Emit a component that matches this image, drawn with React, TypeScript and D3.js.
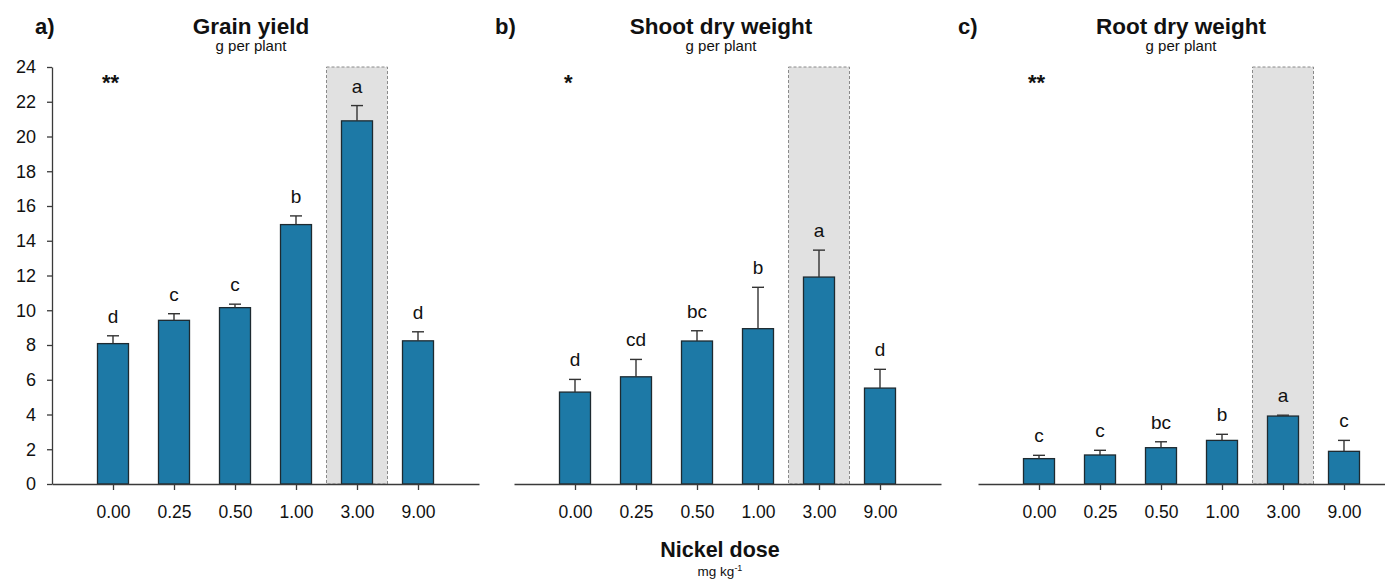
import { useEffect, useRef } from 'react';
import * as d3 from 'd3';

const W = 1385;
const H = 581;
const FONT = "'Liberation Sans', Arial, sans-serif";
const barColor = "#1d79a6";
const shade = "#e1e1e1";

// nickel doses (mg kg-1)
const doses = ["0.00", "0.25", "0.50", "1.00", "3.00", "9.00"];
const bestDose = "3.00";

// grain yield
const grainMean = [8.08, 9.42, 10.15, 14.93, 20.9, 8.24];
const grainSE = [0.45, 0.38, 0.2, 0.5, 0.88, 0.52];
const grainLetters = ["d", "c", "c", "b", "a", "d"];

// shoot dry weight
const shootMean = [5.29, 6.17, 8.23, 8.94, 11.91, 5.52];
const shootSE = [0.73, 1.0, 0.59, 2.38, 1.55, 1.08];
const shootLetters = ["d", "cd", "bc", "b", "a", "d"];

// root dry weight
const rootMean = [1.46, 1.67, 2.09, 2.51, 3.91, 1.88];
const rootSE = [0.19, 0.27, 0.34, 0.35, 0.05, 0.63];
const rootLetters = ["c", "c", "bc", "b", "a", "c"];

const yTicks = [0, 2, 4, 6, 8, 10, 12, 14, 16, 18, 20, 22, 24];

const panels = [
    { tag: "a)", title: "Grain yield", stars: "**", mean: grainMean, se: grainSE, letters: grainLetters, x0: 52, tagX: 35, titleX: 251, yAxis: true },
    { tag: "b)", title: "Shoot dry weight", stars: "*", mean: shootMean, se: shootSE, letters: shootLetters, x0: 514, tagX: 495, titleX: 721, yAxis: false },
    { tag: "c)", title: "Root dry weight", stars: "**", mean: rootMean, se: rootSE, letters: rootLetters, x0: 978, tagX: 958, titleX: 1181, yAxis: false },
];

export default function App() {
    const ref = useRef<SVGSVGElement>(null);

    useEffect(() => {
        const svg = d3.select(ref.current);
        svg.selectAll("*").remove();

        const y = d3.scaleLinear().domain([0, 24]).range([484, 67]);
        const step = 61;

        panels.forEach(p => {
            const g = svg.append("g");
            const x = d3.scaleLinear().domain([0, 7]).range([p.x0, p.x0 + 7 * step]);
            const bw = 31;

            // highlighted dose
            const hi = doses.indexOf(bestDose) + 1;
            g.append("rect")
                .attr("x", x(hi - 0.5))
                .attr("y", y(24))
                .attr("width", x(hi + 0.5) - x(hi - 0.5))
                .attr("height", y(0) - y(24))
                .attr("fill", shade)
                .attr("stroke", "#8a8a8a")
                .attr("stroke-width", 1)
                .attr("stroke-dasharray", "3,2");

            // bars
            g.selectAll(".bar").data(p.mean).join("rect")
                .attr("x", (d, i) => x(i + 1) - bw / 2)
                .attr("y", d => y(d))
                .attr("width", bw)
                .attr("height", d => y(0) - y(d))
                .attr("fill", barColor)
                .attr("stroke", "#1e2a30")
                .attr("stroke-width", 1.3);

            // error bars
            p.mean.forEach((m, i) => {
                const top = y(m + p.se[i]);
                g.append("line")
                    .attr("x1", x(i + 1)).attr("x2", x(i + 1))
                    .attr("y1", y(m)).attr("y2", top)
                    .attr("stroke", "#333").attr("stroke-width", 1.4);
                g.append("line")
                    .attr("x1", x(i + 1) - 6).attr("x2", x(i + 1) + 6)
                    .attr("y1", top).attr("y2", top)
                    .attr("stroke", "#333").attr("stroke-width", 1.4);
                g.append("text")
                    .attr("x", x(i + 1))
                    .attr("y", top - 13)
                    .attr("text-anchor", "middle")
                    .attr("font-size", 19)
                    .attr("fill", "#111")
                    .text(p.letters[i]);
            });

            // x axis
            const xAxis = d3.axisBottom(x)
                .tickValues([1, 2, 3, 4, 5, 6])
                .tickFormat(d => doses[(d as number) - 1])
                .tickSize(6)
                .tickSizeOuter(0)
                .tickPadding(16);
            const gx = g.append("g")
                .attr("transform", `translate(0, ${y(0)})`)
                .call(xAxis);
            gx.select(".domain").attr("stroke", "#3a3a3a").attr("stroke-width", 1.3);
            gx.selectAll(".tick line").attr("stroke", "#3a3a3a").attr("stroke-width", 1.3);
            gx.selectAll("text").attr("font-size", 17.5).attr("font-family", FONT).attr("fill", "#111");

            if (p.yAxis) {
                const yAxis = d3.axisLeft(y)
                    .tickValues(yTicks)
                    .tickSize(5)
                    .tickSizeOuter(0)
                    .tickPadding(11);
                const gy = g.append("g")
                    .attr("transform", `translate(${p.x0}, 0)`)
                    .call(yAxis);
                gy.select(".domain").attr("stroke", "#3a3a3a").attr("stroke-width", 1.3);
                gy.selectAll(".tick line").attr("stroke", "#3a3a3a").attr("stroke-width", 1.3);
                gy.selectAll("text").attr("font-size", 18).attr("font-family", FONT).attr("fill", "#111");
            }

            // significance stars
            g.append("text")
                .attr("x", p.x0 + 50)
                .attr("y", 90)
                .attr("font-size", 22)
                .attr("font-weight", "bold")
                .attr("fill", "#111")
                .text(p.stars);

            // titles
            g.append("text")
                .attr("x", p.tagX)
                .attr("y", 34)
                .attr("font-size", 22)
                .attr("font-weight", "bold")
                .attr("fill", "#111")
                .text(p.tag);
            g.append("text")
                .attr("x", p.titleX)
                .attr("y", 34)
                .attr("text-anchor", "middle")
                .attr("font-size", 22.5)
                .attr("font-weight", "bold")
                .attr("fill", "#111")
                .text(p.title);
            g.append("text")
                .attr("x", p.titleX)
                .attr("y", 51)
                .attr("text-anchor", "middle")
                .attr("font-size", 15)
                .attr("fill", "#111")
                .text("g per plant");
        });

        // shared x title
        svg.append("text")
            .attr("x", 720)
            .attr("y", 557)
            .attr("text-anchor", "middle")
            .attr("font-size", 21.5)
            .attr("font-weight", "bold")
            .attr("fill", "#111")
            .text("Nickel dose");
        const unit = svg.append("text")
            .attr("x", 720)
            .attr("y", 576)
            .attr("text-anchor", "middle")
            .attr("font-size", 13.5)
            .attr("fill", "#111");
        unit.append("tspan").text("mg kg");
        unit.append("tspan").attr("dy", -5).attr("font-size", 9).text("-1");
    }, []);

    return (
        <svg ref={ref} width={W} height={H}
            style={{ position: "absolute", left: 0, top: 0, background: "#fff", fontFamily: FONT }} />
    );
}
